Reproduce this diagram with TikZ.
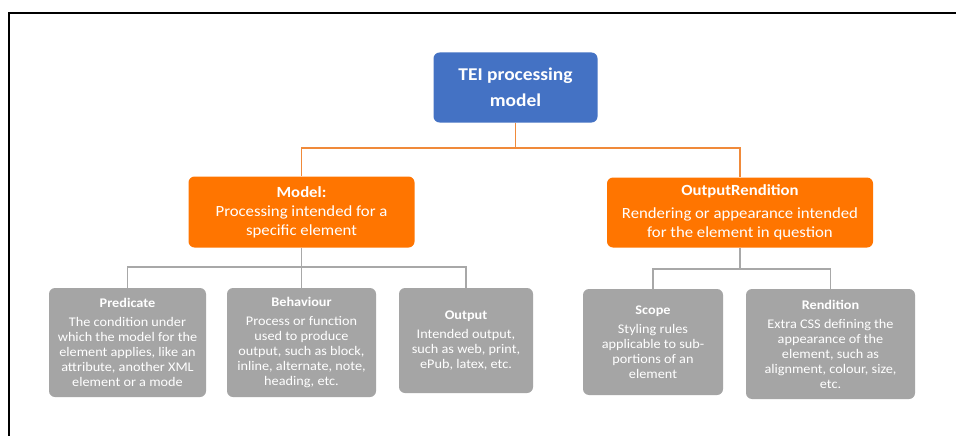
\documentclass[tikz,border=0pt]{standalone}
\usepackage{fontspec}
\setmainfont[FakeStretch=1.08]{Carlito}
\usetikzlibrary{positioning}
\definecolor{teiblue}{HTML}{4472C4}
\definecolor{orangebox}{HTML}{FF7500}
\definecolor{orangeline}{HTML}{F08A3A}
\definecolor{graybox}{HTML}{A5A5A5}
\definecolor{grayline}{HTML}{A8A8A8}
\tikzset{
  base/.style={rounded corners=6pt, inner sep=0pt, align=center, text=white, draw=none},
  topbox/.style={base, fill=teiblue, font=\fontsize{18}{26}\selectfont\bfseries},
  midbox/.style={base, fill=orangebox, font=\fontsize{15.5}{19}\selectfont},
  leafbox/.style={base, fill=graybox, font=\fontsize{13.2}{15}\selectfont},
  oline/.style={orangeline, line width=1.5pt},
  gline/.style={grayline, line width=1.5pt},
}
\begin{document}
\begin{tikzpicture}[x=1pt, y=-1pt]
\useasboundingbox (0,0) rectangle (956,436);
\fill[white] (0,0) rectangle (956,436);
\draw[black, line width=2pt] (9,436) -- (9,13) -- (956,13);

\node[topbox, minimum width=164pt, minimum height=70pt] (tei) at (515.5,87.5) {TEI processing\\model};

\node[midbox, minimum width=226pt, minimum height=71pt] (model) at (301.5,212)
  {\textbf{Model:}\\Processing intended for a\\specific element};
\node[midbox, minimum width=266pt, minimum height=70pt] (outr) at (740,212.5)
  {\textbf{OutputRendition}\\[4pt]Rendering or appearance intended\\for the element in question};

\node[leafbox, minimum width=157pt, minimum height=109pt] (pred) at (127.5,342.5)
  {\textbf{Predicate}\\[4pt]The condition under\\which the model for the\\element applies, like an\\attribute, another XML\\element or a mode};
\node[leafbox, minimum width=149pt, minimum height=109pt] (beh) at (301.5,342.5)
  {\textbf{Behaviour}\\[4pt]Process or function\\used to produce\\output, such as block,\\inline, alternate, note,\\heading, etc.};
\node[leafbox, minimum width=134pt, minimum height=105pt] (out) at (466,340.5)
  {\textbf{Output}\\[4pt]Intended output,\\such as web, print,\\ePub, latex, etc.};
\node[leafbox, minimum width=140pt, minimum height=106pt] (scope) at (653,342)
  {\textbf{Scope}\\[4pt]Styling rules\\applicable to sub-\\portions of an\\element};
\node[leafbox, minimum width=169pt, minimum height=110pt] (rend) at (830.5,344)
  {\textbf{Rendition}\\[4pt]Extra CSS defining the\\appearance of the\\element, such as\\alignment, colour, size,\\etc.};

\coordinate (j1) at (515.5,148);
\coordinate (j2) at (301.5,267);
\coordinate (j3) at (740,269);

\draw[oline] (tei.south) -- (j1) -| (model.north);
\draw[oline] (j1) -| (outr.north);

\draw[gline] (model.south) -- (j2) -| (pred.north);
\draw[gline] (j2) -| (out.north);
\draw[gline] (j2) -- (beh.north);

\draw[gline] (outr.south) -- (j3) -| (scope.north);
\draw[gline] (j3) -| (rend.north);
\end{tikzpicture}
\end{document}
